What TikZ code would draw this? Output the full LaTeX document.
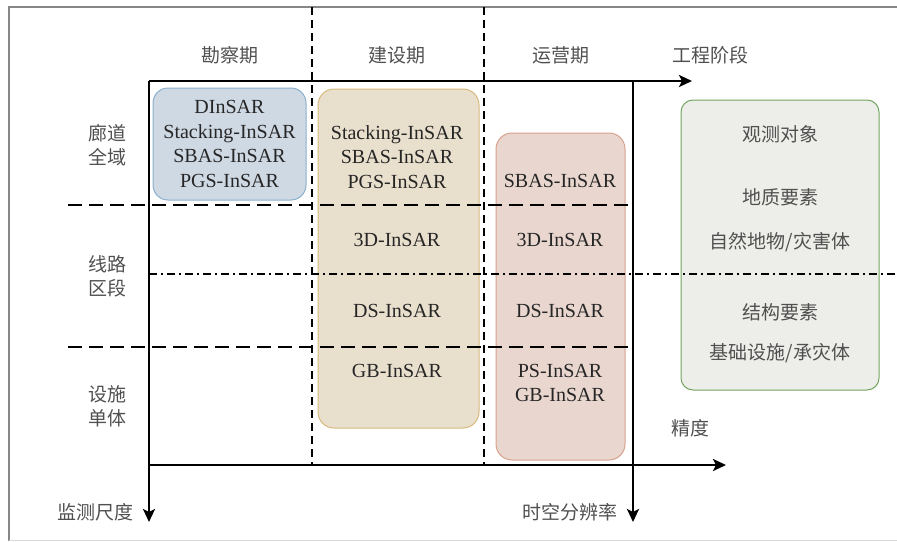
\documentclass[tikz,border=0pt]{standalone}
\usepackage{fontspec}
\setmainfont{Liberation Serif}
\newfontfamily\cjk{Noto Sans CJK SC}
\usetikzlibrary{arrows.meta}

\definecolor{surveyBlue}{RGB}{207,217,228}
\definecolor{surveyEdge}{RGB}{140,175,205}
\definecolor{buildTan}{RGB}{233,223,205}
\definecolor{buildEdge}{RGB}{215,185,125}
\definecolor{operRed}{RGB}{233,215,207}
\definecolor{operEdge}{RGB}{215,160,140}
\definecolor{objGreen}{RGB}{237,237,233}
\definecolor{objEdge}{RGB}{115,165,95}
\definecolor{labelGray}{RGB}{80,80,80}
\definecolor{frameGray}{RGB}{135,135,135}

\tikzset{
  axis/.style={line width=2.6pt},
  axisarrow/.style={axis,-{Stealth[length=13pt,width=12pt,inset=3pt]}},
  splitline/.style={line width=2pt,dash pattern=on 14pt off 7pt},
  phaseline/.style={line width=2pt,dash pattern=on 8pt off 5pt},
  zoneline/.style={line width=1.8pt,dash pattern=on 8pt off 4pt on 2pt off 4pt},
  methodbox/.style={rounded corners=16pt,line width=1pt,inner sep=0pt},
  cn/.style={text=labelGray,font=\fontsize{19}{24}\selectfont\cjk,align=center},
  method/.style={text=black!85,align=center}
}

\begin{document}
\begin{tikzpicture}[x=1pt,y=-1pt,font=\fontsize{20}{24.5}\selectfont]
\useasboundingbox (0,0) rectangle (897,541);

% Frame
\draw[frameGray,line width=2pt] (9,541) -- (9,7) -- (897,7);
\draw[black!15,line width=1pt] (9,540) -- (897,540);

% Method boxes
\node[methodbox,fill=surveyBlue,draw=surveyEdge,rounded corners=15pt,
      minimum width=153pt,minimum height=112pt,method] (kcBox) at (229.5,144)
      {DInSAR\\Stacking-InSAR\\SBAS-InSAR\\PGS-InSAR};
\node[methodbox,fill=buildTan,draw=buildEdge,minimum width=161pt,minimum height=339pt] (jsBox) at (398.5,258.5) {};
\node[methodbox,fill=operRed,draw=operEdge,minimum width=129pt,minimum height=327pt] (yyBox) at (560.5,296.5) {};
\node[methodbox,fill=objGreen,draw=objEdge,rounded corners=12pt,minimum width=198pt,minimum height=290pt] (objBox) at (780,245) {};

% Construction phase
\node[method] (jsA) at (397,157) {Stacking-InSAR\\SBAS-InSAR\\PGS-InSAR};
\node[method] (jsB) at (397,240) {3D-InSAR};
\node[method] (jsC) at (397,311) {DS-InSAR};
\node[method] (jsD) at (397,371) {GB-InSAR};

% Operation phase
\node[method] (yyA) at (560,181) {SBAS-InSAR};
\node[method] (yyB) at (560,240) {3D-InSAR};
\node[method] (yyC) at (560,311) {DS-InSAR};
\node[method] (yyD) at (560,383) {PS-InSAR\\GB-InSAR};

% Observed objects
\node[cn] (objA) at (780,134) {观测对象};
\node[cn] (objB) at (780,197) {地质要素};
\node[cn] (objC) at (780,242) {自然地物/灾害体};
\node[cn] (objD) at (780,312) {结构要素};
\node[cn] (objE) at (780,353) {基础设施/承灾体};

% Axes
\coordinate (topL) at (149,81);
\coordinate (topEnd) at (692,81);
\coordinate (scaleEnd) at (149,522);
\coordinate (rightTop) at (633,81);
\coordinate (resEnd) at (633,522);
\coordinate (botL) at (149,465);
\coordinate (accEnd) at (726,465);
\draw[axisarrow] (topL) -- (topEnd);
\draw[axisarrow] (topL) -- (scaleEnd);
\draw[axisarrow] (rightTop) -- (resEnd);
\draw[axisarrow] (botL) -- (accEnd);

% Phase dividers
\coordinate (p1t) at (312,7);
\coordinate (p1b) at (312,465);
\coordinate (p2t) at (484,7);
\coordinate (p2b) at (484,465);
\draw[phaseline] (p1t) -- (p1b);
\draw[phaseline] (p2t) -- (p2b);

% Scale dividers
\coordinate (s1l) at (68,205);
\coordinate (s1r) at (633,205);
\coordinate (s2l) at (68,347);
\coordinate (s2r) at (633,347);
\coordinate (zl) at (149,274);
\coordinate (zr) at (897,274);
\draw[splitline] (s1l) -- (s1r);
\draw[splitline] (s2l) -- (s2r);
\draw[zoneline] (zl) -- (zr);

% Labels
\node[cn] (kc) at (230,55) {勘察期};
\node[cn] (js) at (397,55) {建设期};
\node[cn] (yy) at (561,55) {运营期};
\node[cn] (gc) at (710,55) {工程阶段};
\node[cn] (ld) at (107,145) {廊道\\全域};
\node[cn] (xl) at (107,276) {线路\\区段};
\node[cn] (ss) at (107,406) {设施\\单体};
\node[cn] (jc) at (95,512) {监测尺度};
\node[cn] (fb) at (570,512) {时空分辨率};
\node[cn] (jd) at (690,428) {精度};
\end{tikzpicture}
\end{document}
